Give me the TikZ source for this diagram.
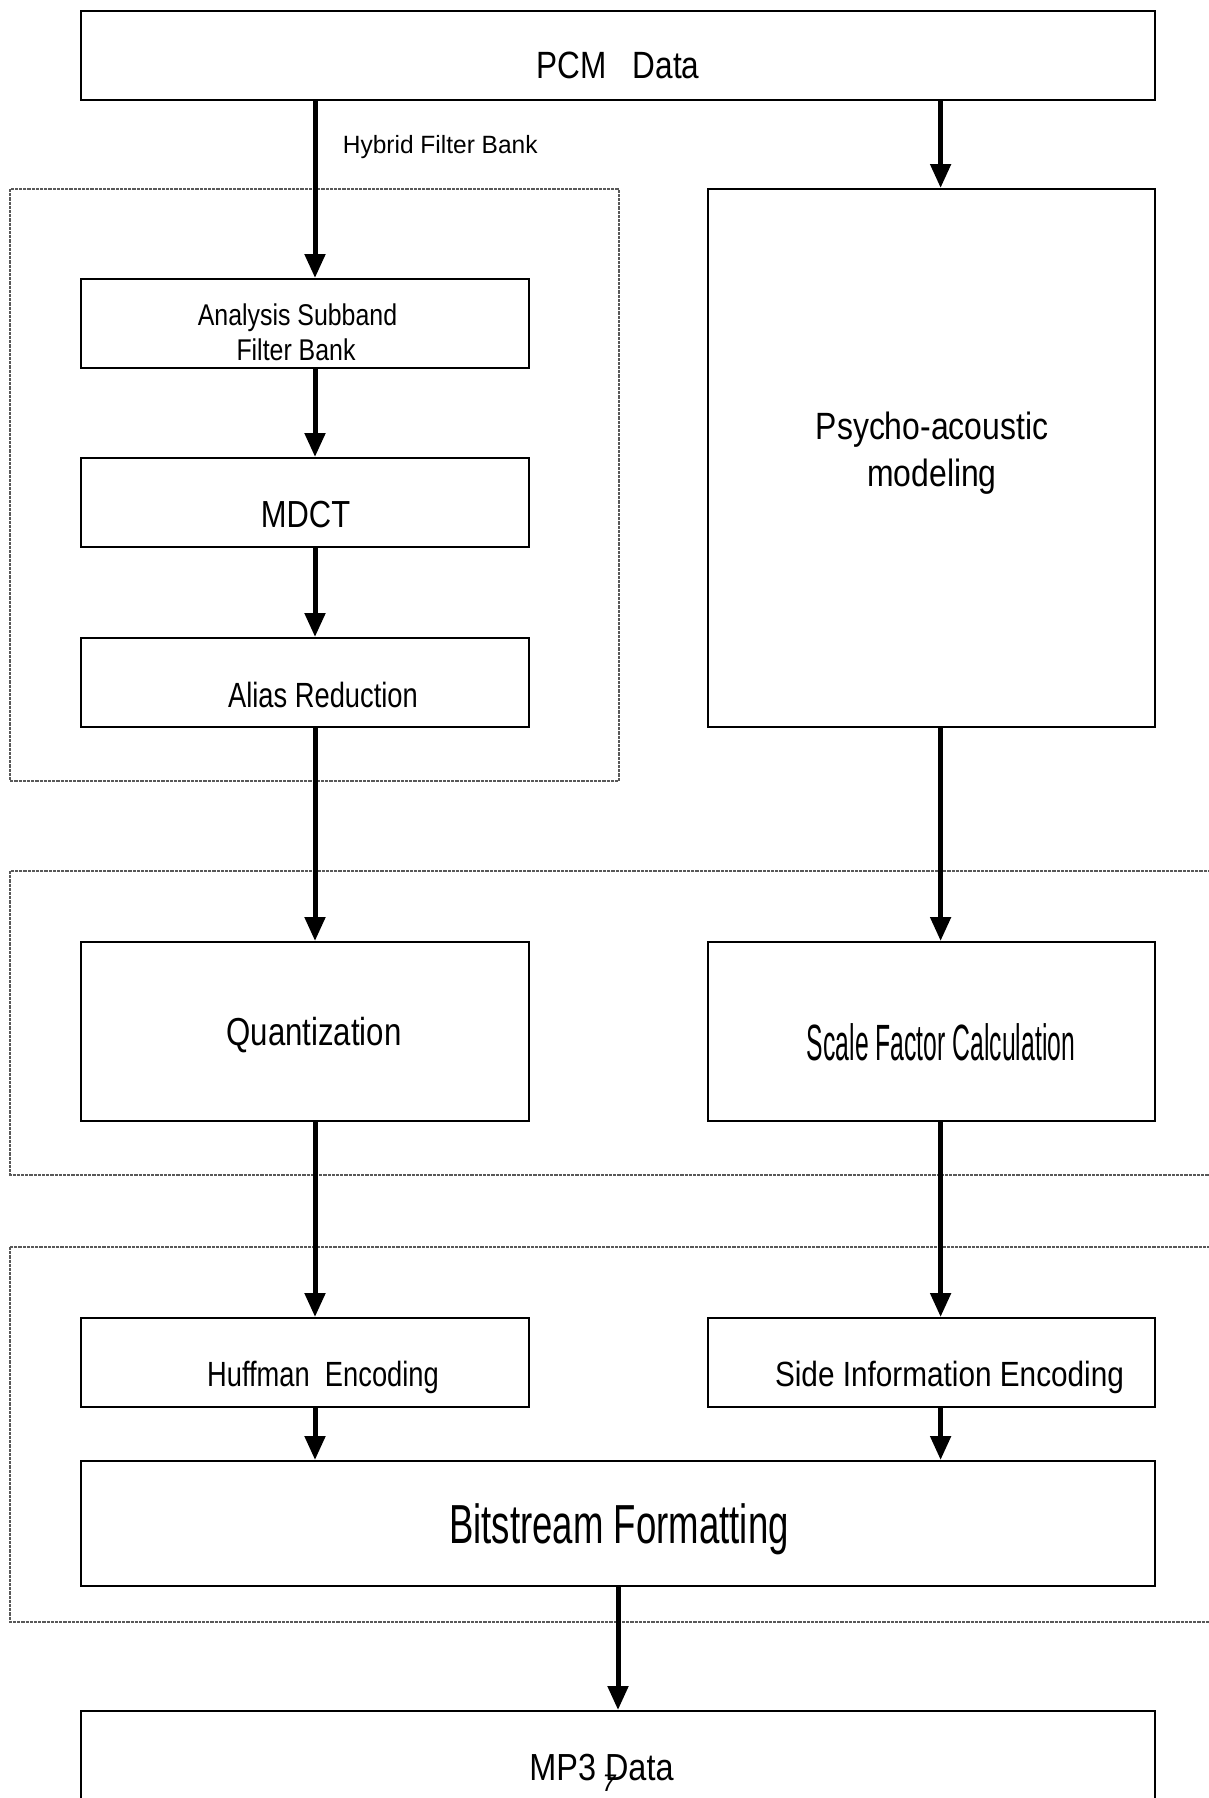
\documentclass[tikz,border=0pt]{standalone}
\usepackage{fontspec}
\usepackage{graphicx}
\setmainfont{Liberation Sans}
\usetikzlibrary{arrows.meta}

% text set at a given size (pt) and horizontal squeeze
\newcommand{\bt}[3]{\fontsize{#1}{#1}\selectfont\scalebox{#2}[1]{#3}}

\begin{document}
\begin{tikzpicture}[x=0.5pt,y=-0.5pt,
  blk/.style={draw=black, line width=1pt, fill=white, rectangle, inner sep=0pt},
  txt/.style={inner sep=0pt, anchor=base},
  frame/.style={draw=black!65, line width=0.7pt, dash pattern=on 1.6pt off 0.5pt},
  flow/.style={line width=2.5pt, -{Triangle[length=12pt,width=10pt]}}]

\useasboundingbox (0,0) rectangle (1209,1798);
\clip (0,0) rectangle (1209,1798);
\fill[white] (0,0) rectangle (1209,1798);

% column lines of the two signal paths
\coordinate (colL) at (315,0);
\coordinate (colR) at (940.6,0);
\coordinate (colM) at (618,0);

% group frames
\draw[frame] (10,189) rectangle (619,781);
\draw[frame] (10,871) rectangle (1220,1175);
\draw[frame] (10,1247) rectangle (1220,1622);

% blocks
\node[blk, minimum width=537pt, minimum height=44.25pt] (pcm) at (618,55.75) {};
\node[blk, minimum width=224pt, minimum height=44.5pt] (ana) at (305,323.5) {};
\node[blk, minimum width=224pt, minimum height=44.5pt] (mdct) at (305,502.5) {};
\node[blk, minimum width=224pt, minimum height=44.5pt] (alias) at (305,682.5) {};
\node[blk, minimum width=223.5pt, minimum height=269pt] (psy) at (931.5,458) {};
\node[blk, minimum width=224pt, minimum height=89.5pt] (quant) at (305,1031.5) {};
\node[blk, minimum width=223.5pt, minimum height=89.5pt] (scale) at (931.5,1031.5) {};
\node[blk, minimum width=224pt, minimum height=44.5pt] (huff) at (305,1362.5) {};
\node[blk, minimum width=223.5pt, minimum height=44.5pt] (side) at (931.5,1362.5) {};
\node[blk, minimum width=537pt, minimum height=62.5pt] (bits) at (618,1523.5) {};
\node[blk, minimum width=537pt, minimum height=59.5pt] (mp3) at (618,1770.5) {};

% block texts
\node[txt] (pcmT) at (618,79) {\bt{19}{0.83}{PCM\ \ \ Data}};
\node[txt, anchor=base west] (hyb) at (342.5,154) {\bt{12.5}{0.98}{Hybrid Filter Bank}};
\node[txt] (anaT1) at (297.5,325) {\bt{15}{0.83}{Analysis Subband}};
\node[txt] (anaT2) at (296,360) {\bt{15}{0.83}{Filter Bank}};
\node[txt] (mdctT) at (305.5,527) {\bt{18.85}{0.82}{MDCT}};
\node[txt] (aliasT) at (323,707) {\bt{17.5}{0.78}{Alias Reduction}};
\node[txt] (psyT1) at (932,439) {\bt{19}{0.84}{Psycho-acoustic}};
\node[txt] (psyT2) at (932,486.5) {\bt{19}{0.84}{modeling}};
\node[txt] (quantT) at (314,1045) {\bt{19.5}{0.8}{Quantization}};
\node[txt] (scaleT) at (941,1060) {\bt{25.5}{0.485}{Scale Factor Calculation}};
\node[txt] (huffT) at (323,1386) {\bt{17.5}{0.78}{Huffman\ \ Encoding}};
\node[txt] (sideT) at (949.5,1386) {\bt{17.5}{0.85}{Side Information Encoding}};
\node[txt] (bitsT) at (619,1543) {\bt{27.5}{0.665}{Bitstream Formatting}};
\node[txt] (mp3T) at (601.5,1780) {\bt{18.85}{0.86}{MP3 Data}};
\node[txt] (pg) at (609,1791) {\fontsize{12}{12}\selectfont\itshape 7};

% connectors
\draw[flow] (pcm.south -| colL) -- (ana.north -| colL);
\draw[flow] (ana.south -| colL) -- (mdct.north -| colL);
\draw[flow] (mdct.south -| colL) -- (alias.north -| colL);
\draw[flow] (alias.south -| colL) -- (quant.north -| colL);
\draw[flow] (quant.south -| colL) -- (huff.north -| colL);
\draw[flow] (huff.south -| colL) -- (bits.north -| colL);

\draw[flow] (pcm.south -| colR) -- (psy.north -| colR);
\draw[flow] (psy.south -| colR) -- (scale.north -| colR);
\draw[flow] (scale.south -| colR) -- (side.north -| colR);
\draw[flow] (side.south -| colR) -- (bits.north -| colR);

\draw[flow] (bits.south -| colM) -- (mp3.north -| colM);

\end{tikzpicture}
\end{document}
